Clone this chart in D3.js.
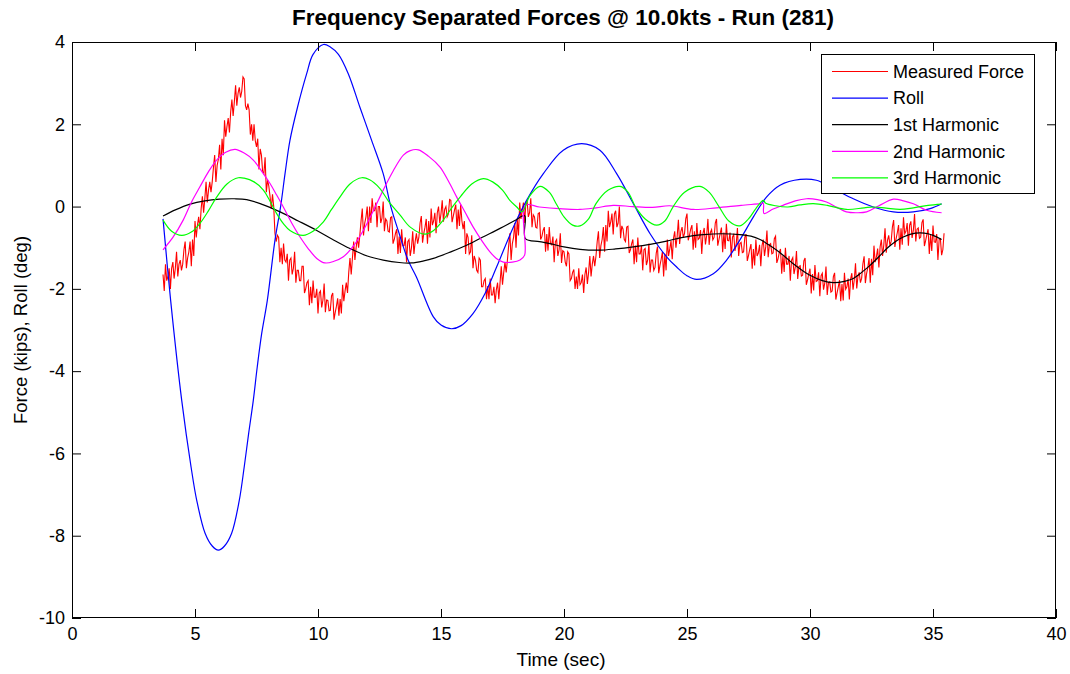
<!DOCTYPE html>
<html>
<head>
<meta charset="utf-8">
<script src="https://cdn.jsdelivr.net/npm/d3@7"></script>
<style>
  html, body { margin: 0; padding: 0; background: #fff; }
  svg { display: block; font-family: "Liberation Sans", Arial, sans-serif; }
</style>
</head>
<body>
<svg id="chart" width="1070" height="674"></svg>
<script>
// Axis ticks
const xTicks = [0, 5, 10, 15, 20, 25, 30, 35, 40];
const yTicks = [-10, -8, -6, -4, -2, 0, 2, 4];

// Measured force (kips), sampled every 0.05 s from 3.7 s
const forceStart = 3.7;
const forceStep = 0.05;
const forceValues = [
  -1.65,-2.05,-1.4,-1.8,-1.7,-1.5,-2.0,-1.5,-1.35,-1.75,-1.5,-1.1,-1.7,-1.4,-1.3,-1.55,-1.4,-1.05,-0.85,-1.5,
  -1.25,-1.1,-0.85,-1.45,-0.8,-1.2,-0.35,-0.75,-0.45,-0.25,-0.55,-0.05,0.25,-0.15,0.2,0.6,0.1,0.4,0.6,0.35,
  0.6,0.95,1.25,0.6,1.0,1.15,1.5,0.9,1.65,1.25,2.1,1.7,1.95,2.15,1.8,2.3,2.6,2.2,2.55,2.95,
  2.45,2.75,2.9,2.65,2.8,3.15,3.1,2.45,2.35,2.5,2.35,1.75,2.0,1.6,2.0,1.6,1.45,1.65,0.9,1.4,
  1.25,0.85,0.8,1.2,0.35,0.65,0.5,0.25,-0.05,0.3,0.0,-0.65,-0.85,-0.7,-0.75,-1.35,-1.0,-1.4,-0.9,-1.3,
  -1.35,-1.15,-1.8,-1.3,-1.25,-1.65,-1.5,-1.1,-1.85,-1.55,-1.55,-1.8,-1.8,-1.45,-1.45,-2.1,-2.0,-1.85,-1.8,-2.4,
  -1.95,-2.35,-1.8,-2.2,-2.2,-2.0,-2.6,-2.1,-2.05,-2.45,-2.27,-1.87,-2.57,-2.27,-2.28,-2.53,-2.52,-2.17,-2.1,-2.75,
  -2.57,-2.42,-2.23,-2.65,-2.25,-2.6,-1.9,-2.3,-2.05,-1.85,-2.1,-1.6,-1.25,-1.65,-1.25,-0.85,-1.3,-1.0,-0.75,-1.0,
  -0.7,-0.35,-0.05,-0.7,-0.4,-0.25,0.0,-0.6,0.0,-0.4,0.2,-0.1,-0.1,0.1,-0.5,0.0,0.0,-0.4,-0.28,0.12,
  -0.6,-0.3,-0.35,-0.6,-0.62,-0.27,-0.25,-0.9,-0.8,-0.65,-0.55,-1.15,-0.73,-1.13,-0.55,-0.95,-0.95,-0.75,-1.35,-0.85,
  -0.8,-1.2,-1.0,-0.6,-1.15,-0.85,-0.65,-0.9,-0.75,-0.4,-0.23,-0.88,-0.65,-0.5,-0.3,-0.9,-0.35,-0.75,-0.05,-0.45,
  -0.35,-0.15,-0.65,-0.15,0.0,-0.4,-0.17,0.15,-0.37,-0.07,0.0,-0.25,-0.18,0.17,0.15,-0.38,-0.23,-0.08,0.05,-0.55,
  -0.07,-0.47,0.05,-0.35,-0.55,-0.35,-1.15,-0.65,-0.75,-1.15,-1.1,-0.7,-1.5,-1.2,-1.3,-1.55,-1.6,-1.25,-1.3,-1.95,
  -1.95,-1.8,-1.75,-2.25,-1.93,-2.25,-1.75,-2.15,-2.15,-1.95,-2.35,-2.02,-1.85,-2.25,-1.85,-1.45,-1.9,-1.6,-1.35,-1.6,
  -1.3,-0.95,-0.65,-1.3,-0.9,-0.75,-0.4,-1.0,-0.3,-0.7,0.1,-0.3,-0.1,0.1,-0.4,0.1,0.15,-0.25,-0.15,0.2,
  -0.5,-0.2,-0.25,-0.5,-0.52,-0.17,-0.15,-0.8,-0.73,-0.58,-0.5,-1.1,-0.67,-1.07,-0.5,-0.9,-0.93,-0.73,-1.35,-0.85,
  -0.8,-1.2,-1.05,-0.65,-1.37,-1.07,-1.1,-1.35,-1.45,-1.1,-1.15,-1.8,-1.75,-1.6,-1.53,-2.0,-1.7,-2.0,-1.5,-1.9,
  -1.85,-1.65,-2.1,-1.65,-1.48,-1.88,-1.6,-1.2,-1.7,-1.4,-1.2,-1.45,-1.2,-0.85,-0.6,-1.25,-0.95,-0.8,-0.5,-1.1,
  -0.45,-0.85,-0.1,-0.5,-0.37,-0.17,-0.68,-0.18,-0.1,-0.5,-0.4,0.0,-0.77,-0.47,-0.55,-0.8,-0.85,-0.5,-0.48,-1.13,
  -1.05,-0.9,-0.8,-1.4,-0.95,-1.35,-0.75,-1.15,-1.15,-0.95,-1.55,-1.05,-1.02,-1.42,-1.3,-0.9,-1.6,-1.3,-1.3,-1.55,
  -1.48,-1.13,-0.97,-1.62,-1.43,-1.28,-1.1,-1.7,-1.15,-1.55,-0.8,-1.2,-1.03,-0.83,-1.28,-0.78,-0.6,-1.0,-0.72,-0.32,
  -0.91,-0.61,-0.5,-0.75,-0.65,-0.3,-0.17,-0.82,-0.7,-0.55,-0.45,-1.05,-0.6,-1.0,-0.4,-0.8,-0.77,-0.57,-1.15,-0.65,
  -0.52,-0.92,-0.7,-0.3,-0.93,-0.63,-0.56,-0.81,-0.75,-0.4,-0.3,-0.95,-0.8,-0.65,-0.51,-1.11,-0.63,-1.03,-0.42,-0.82,
  -0.83,-0.63,-1.24,-0.74,-0.68,-1.08,-0.92,-0.52,-1.2,-0.9,-0.87,-1.12,-1.1,-0.75,-0.67,-1.32,-1.19,-1.04,-0.91,-1.51,
  -1.03,-1.43,-0.8,-1.2,-1.13,-0.93,-1.45,-0.95,-0.8,-1.2,-0.98,-0.58,-1.23,-0.93,-0.9,-1.15,-1.13,-0.78,-0.72,-1.37,
  -1.27,-1.12,-1.03,-1.63,-1.19,-1.59,-1.0,-1.4,-1.4,-1.2,-1.8,-1.3,-1.24,-1.64,-1.48,-1.08,-1.76,-1.46,-1.44,-1.69,
  -1.67,-1.32,-1.25,-1.9,-1.78,-1.63,-1.51,-2.11,-1.64,-2.04,-1.42,-1.82,-1.8,-1.6,-2.18,-1.68,-1.62,-2.02,-1.86,-1.46,
  -2.15,-1.85,-1.83,-2.08,-2.05,-1.7,-1.61,-2.26,-2.1,-1.95,-1.79,-2.3,-1.88,-2.28,-1.61,-2.01,-1.95,-1.75,-2.26,-1.76,
  -1.62,-2.02,-1.78,-1.38,-1.99,-1.69,-1.6,-1.85,-1.74,-1.39,-1.21,-1.86,-1.63,-1.48,-1.25,-1.85,-1.27,-1.67,-0.95,-1.35,
  -1.22,-1.02,-1.48,-0.98,-0.8,-1.2,-0.93,-0.53,-1.12,-0.82,-0.7,-0.95,-0.84,-0.49,-0.33,-0.98,-0.78,-0.63,-0.45,-1.05,
  -0.53,-0.93,-0.26,-0.66,-0.6,-0.4,-0.95,-0.45,-0.36,-0.76,-0.58,-0.18,-0.85,-0.55,-0.52,-0.77,-0.74,-0.39,-0.31,-0.96,
  -0.83,-0.68,-0.55,-1.15,-0.68,-1.08,-0.46,-0.86,-0.87,-0.67,-1.3,-0.8,-0.78,-1.18,-1.05,-0.65
];

// Roll angle (deg)
const rollTime = [3.7,4.01,4.46,4.84,5.07,5.41,5.7,5.95,6.2,6.49,6.8,7.0,7.18,7.37,7.53,7.71,7.94,8.25,8.48,8.66,8.86,9.17,9.54,9.8,10.22,10.5,10.83,11.23,11.7,12.18,12.65,12.96,13.27,13.66,14.0,14.69,15.0,15.43,15.8,16.3,16.8,17.26,17.94,18.48,19.16,19.97,20.72,21.46,22.14,22.82,23.5,24.17,24.58,25.0,25.39,26.07,26.61,27.14,27.7,28.23,28.78,29.6,30.26,31.07,31.76,32.57,33.39,34.2,34.88,35.35];
const rollValues = [-0.3,-2.28,-4.71,-6.33,-7.14,-7.94,-8.25,-8.35,-8.25,-7.94,-7.14,-6.33,-5.52,-4.71,-3.9,-3.09,-2.28,-0.82,0.0,0.8,1.61,2.42,3.23,3.7,3.94,3.88,3.7,3.23,2.42,1.61,0.8,0.0,-0.6,-1.3,-1.71,-2.68,-2.88,-2.97,-2.9,-2.6,-2.1,-1.47,-0.5,0.15,0.8,1.37,1.53,1.37,0.8,0.07,-0.66,-1.22,-1.47,-1.68,-1.77,-1.63,-1.3,-0.82,-0.25,0.23,0.52,0.66,0.64,0.4,0.19,-0.01,-0.13,-0.13,-0.05,0.07];

// 1st harmonic
const h1Time = [3.7,4.2,4.8,5.4,6.0,6.6,7.1,7.7,8.46,9.2,9.95,10.6,11.3,12.0,12.65,13.3,13.8,14.3,14.69,15.4,16.04,16.7,17.4,18.0,18.4,18.43,19.0,19.43,20.0,20.65,21.46,22.1,22.82,23.5,24.17,24.72,25.2,25.66,26.4,27.15,27.6,27.97,28.3,28.65,29.0,29.32,29.66,30.0,30.5,30.95,31.4,31.76,32.1,32.44,32.8,33.12,33.45,33.79,34.1,34.47,34.8,35.01,35.35];
const h1Values = [-0.23,-0.08,0.06,0.14,0.18,0.19,0.17,0.06,-0.13,-0.35,-0.58,-0.8,-1.02,-1.2,-1.3,-1.36,-1.37,-1.32,-1.26,-1.1,-0.94,-0.74,-0.53,-0.34,-0.22,-0.78,-0.85,-0.9,-0.98,-1.04,-1.06,-1.03,-0.98,-0.92,-0.84,-0.76,-0.71,-0.68,-0.66,-0.68,-0.72,-0.8,-0.92,-1.06,-1.23,-1.39,-1.54,-1.67,-1.8,-1.85,-1.82,-1.75,-1.6,-1.43,-1.22,-1.02,-0.86,-0.74,-0.67,-0.64,-0.66,-0.7,-0.8];

// 2nd harmonic
const h2Time = [3.7,4.1,4.52,4.85,5.2,5.55,5.88,6.25,6.63,7.0,7.37,7.7,8.05,8.32,8.59,8.93,9.27,9.6,9.95,10.28,10.65,11.03,11.45,11.84,12.25,12.65,13.05,13.47,13.75,14.08,14.5,14.96,15.3,15.64,15.98,16.31,16.65,16.99,17.25,17.53,17.9,18.21,18.4,18.43,19.0,19.8,20.65,21.3,22.0,22.8,23.6,24.3,25.26,26.2,27.2,27.97,28.1,28.13,28.5,28.9,29.4,29.86,30.3,30.67,31.1,31.48,31.9,32.3,32.8,33.39,33.8,34.2,34.74,35.35];
const h2Values = [-1.05,-0.75,-0.33,0.1,0.48,0.85,1.13,1.32,1.39,1.3,1.13,0.87,0.56,0.28,-0.01,-0.4,-0.74,-1.02,-1.26,-1.37,-1.33,-1.22,-0.95,-0.58,-0.1,0.4,0.86,1.25,1.36,1.38,1.22,0.96,0.62,0.23,-0.14,-0.5,-0.82,-1.1,-1.26,-1.35,-1.35,-1.3,-1.18,0.03,-0.01,-0.05,-0.07,-0.03,0.03,0.0,-0.02,0.02,-0.07,-0.03,0.03,0.07,0.08,-0.17,-0.06,0.03,0.14,0.19,0.17,0.11,-0.02,-0.13,-0.15,-0.13,0.02,0.18,0.14,0.07,-0.09,-0.15];

// 3rd harmonic
const h3Time = [3.7,4.05,4.46,4.85,5.2,5.55,5.88,6.3,6.76,7.0,7.4,7.78,8.05,8.32,8.6,8.86,9.4,9.8,10.22,10.55,10.89,11.3,11.78,12.1,12.5,12.9,13.33,13.75,14.35,14.7,15.09,15.45,15.8,16.25,16.72,17.1,17.5,17.8,18.08,18.3,18.6,19.02,19.4,19.7,20.0,20.35,20.65,21.0,21.3,21.8,22.28,22.6,22.9,23.3,23.77,24.1,24.44,24.9,25.53,25.9,26.3,26.7,27.15,27.5,27.8,28.1,28.2,28.6,29.1,29.6,30.13,30.7,31.48,32.2,32.6,33.1,33.66,34.2,34.8,35.35];
const h3Values = [-0.33,-0.6,-0.7,-0.62,-0.41,-0.1,0.23,0.55,0.7,0.69,0.6,0.4,0.13,-0.17,-0.42,-0.58,-0.7,-0.6,-0.37,-0.07,0.23,0.55,0.7,0.65,0.45,0.1,-0.2,-0.5,-0.67,-0.58,-0.33,-0.02,0.25,0.55,0.68,0.6,0.4,0.15,-0.01,-0.13,0.25,0.49,0.35,0.05,-0.25,-0.45,-0.47,-0.3,0.07,0.4,0.49,0.35,0.0,-0.3,-0.45,-0.35,0.0,0.35,0.49,0.35,0.0,-0.35,-0.47,-0.3,-0.05,0.15,0.08,0.02,-0.01,0.04,0.07,0.03,-0.07,-0.03,-0.01,-0.04,-0.07,-0.03,0.03,0.06];

const seriesNames = ["Measured Force", "Roll", "1st Harmonic", "2nd Harmonic", "3rd Harmonic"];
const seriesColors = ["#ff0000", "#0000ff", "#000000", "#ff00ff", "#00ff00"];

const svg = d3.select("#chart");
const plotLeft = 72, plotRight = 1056, plotTop = 42, plotBottom = 618;

const x = d3.scaleLinear().domain([0, 40]).range([plotLeft, plotRight]);
const y = d3.scaleLinear().domain([-10, 4]).range([plotBottom, plotTop]);

svg.append("clipPath").attr("id", "plotClip").append("rect")
  .attr("x", plotLeft).attr("y", plotTop)
  .attr("width", plotRight - plotLeft).attr("height", plotBottom - plotTop);
const plot = svg.append("g").attr("clip-path", "url(#plotClip)");

const forcePts = forceValues.map((v, i) => [forceStart + i * forceStep, v]);
const zipPts = (ts, vs) => ts.map((t, i) => [t, vs[i]]);

const straight = d3.line().x(d => x(d[0])).y(d => y(d[1]));
const smooth = d3.line().x(d => x(d[0])).y(d => y(d[1])).curve(d3.curveCatmullRom.alpha(0.5));

const drawOrder = [
  { pts: forcePts, gen: straight, color: seriesColors[0], w: 1.1 },
  { pts: zipPts(rollTime, rollValues), gen: smooth, color: seriesColors[1], w: 1.2 },
  { pts: zipPts(h1Time, h1Values), gen: smooth, color: seriesColors[2], w: 1.2 },
  { pts: zipPts(h2Time, h2Values), gen: smooth, color: seriesColors[3], w: 1.2 },
  { pts: zipPts(h3Time, h3Values), gen: smooth, color: seriesColors[4], w: 1.2 }
];
drawOrder.forEach(s => {
  plot.append("path").attr("d", s.gen(s.pts))
    .attr("fill", "none").attr("stroke", s.color).attr("stroke-width", s.w)
    .attr("stroke-linejoin", "miter");
});

// axes: ticks point inward on all four sides
const tickLen = 9;
const fontSize = 18;
const plainNum = d => String(d);
const axisStyle = g => {
  g.select(".domain").remove();
  g.selectAll(".tick line").attr("stroke", "#000");
  g.selectAll(".tick text").attr("fill", "#000").style("font-size", fontSize + "px");
  g.attr("font-family", null);
};

svg.append("g").attr("transform", `translate(0,${plotBottom})`)
  .call(d3.axisBottom(x).tickValues(xTicks).tickFormat(plainNum).tickSizeInner(-tickLen).tickSizeOuter(0).tickPadding(9))
  .call(axisStyle);
svg.append("g").attr("transform", `translate(0,${plotTop})`)
  .call(d3.axisTop(x).tickValues(xTicks).tickFormat("").tickSizeInner(-tickLen).tickSizeOuter(0))
  .call(axisStyle);
svg.append("g").attr("transform", `translate(${plotLeft},0)`)
  .call(d3.axisLeft(y).tickValues(yTicks).tickFormat(plainNum).tickSizeInner(-tickLen).tickSizeOuter(0).tickPadding(7))
  .call(axisStyle);
svg.append("g").attr("transform", `translate(${plotRight},0)`)
  .call(d3.axisRight(y).tickValues(yTicks).tickFormat("").tickSizeInner(-tickLen).tickSizeOuter(0))
  .call(axisStyle);

svg.append("rect").attr("x", plotLeft + 0.5).attr("y", plotTop + 0.5)
  .attr("width", plotRight - plotLeft - 1).attr("height", plotBottom - plotTop - 1)
  .attr("fill", "none").attr("stroke", "#000").attr("stroke-width", 1);

// titles
svg.append("text").attr("x", 563).attr("y", 25)
  .attr("text-anchor", "middle").style("font-size", "22.5px").style("font-weight", "bold")
  .text("Frequency Separated Forces @ 10.0kts - Run (281)");
svg.append("text").attr("x", 561).attr("y", 666)
  .attr("text-anchor", "middle").style("font-size", "19px")
  .text("Time (sec)");
svg.append("text").attr("transform", `translate(27,${(plotTop + plotBottom) / 2}) rotate(-90)`)
  .attr("text-anchor", "middle").style("font-size", "18.5px")
  .text("Force (kips), Roll (deg)");

// legend
const lg = svg.append("g");
lg.append("rect").attr("x", 821.5).attr("y", 54.5).attr("width", 213).attr("height", 139)
  .attr("fill", "#fff").attr("stroke", "#000").attr("stroke-width", 1);
seriesNames.forEach((name, i) => {
  const ry = 71.5 + i * 26.6;
  lg.append("line").attr("x1", 832).attr("x2", 888).attr("y1", ry).attr("y2", ry)
    .attr("stroke", seriesColors[i]).attr("stroke-width", 1.2);
  lg.append("text").attr("x", 893).attr("y", ry).attr("dy", "0.35em")
    .style("font-size", fontSize + "px").text(name);
});
</script>
</body>
</html>
